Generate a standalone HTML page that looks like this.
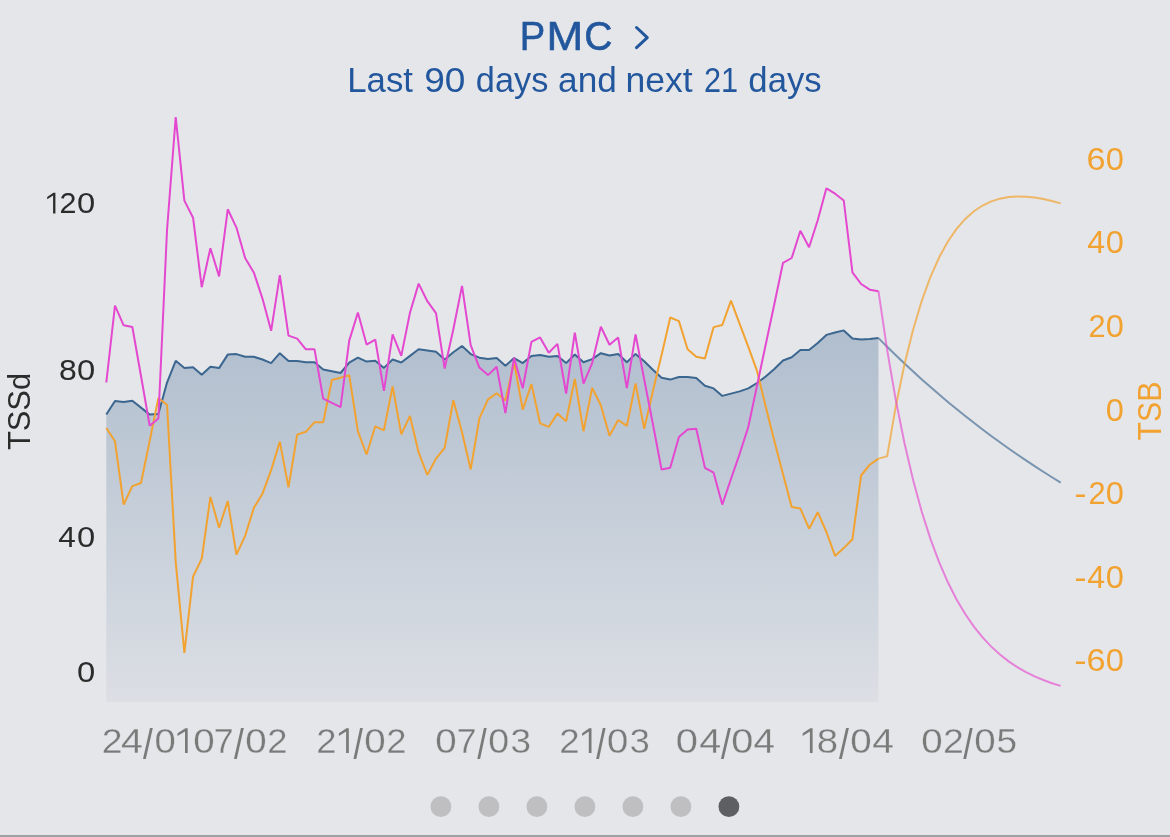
<!DOCTYPE html>
<html><head><meta charset="utf-8"><style>html,body{margin:0;padding:0;width:1170px;height:837px;overflow:hidden;background:#e5e6e9}</style></head>
<body><svg width="1170" height="837" viewBox="0 0 1170 837" style="position:absolute;left:0;top:0;will-change:transform;font-family:'Liberation Sans',sans-serif">
<defs><linearGradient id="g" x1="0" y1="330" x2="0" y2="702" gradientUnits="userSpaceOnUse"><stop offset="0" stop-color="#3a6491" stop-opacity="0.31"/><stop offset="1" stop-color="#3a6491" stop-opacity="0.055"/></linearGradient></defs>
<rect width="1170" height="837" fill="#e5e6e9"/>
<path d="M106.30,702.00 L106.30,414.50 L114.98,401.00 L123.65,402.10 L132.33,400.70 L141.00,407.60 L149.68,414.60 L158.36,413.90 L167.03,382.60 L175.71,360.80 L184.38,367.90 L193.06,367.20 L201.74,374.80 L210.41,366.70 L219.09,368.10 L227.76,354.60 L236.44,354.10 L245.12,356.80 L253.79,356.80 L262.47,359.50 L271.14,363.10 L279.82,353.20 L288.50,360.90 L297.17,361.10 L305.85,362.20 L314.52,362.20 L323.20,369.40 L331.88,371.20 L340.55,373.00 L349.23,362.70 L357.90,357.70 L366.58,361.60 L375.26,360.70 L383.93,367.90 L392.61,359.50 L401.28,362.50 L409.96,355.90 L418.64,349.30 L427.31,350.50 L435.99,351.80 L444.66,359.50 L453.34,352.30 L462.02,346.00 L470.69,354.10 L479.37,357.70 L488.04,359.00 L496.72,357.90 L505.40,365.80 L514.07,358.10 L522.75,363.10 L531.42,355.90 L540.10,355.00 L548.78,356.80 L557.45,355.90 L566.13,363.10 L574.80,354.50 L583.48,362.20 L592.16,359.10 L600.83,353.20 L609.51,355.50 L618.18,354.10 L626.86,362.20 L635.54,353.90 L644.21,361.30 L652.89,369.80 L661.56,377.80 L670.24,379.60 L678.92,377.00 L687.59,377.00 L696.27,378.00 L704.94,385.70 L713.62,388.40 L722.30,395.90 L730.97,393.60 L739.65,391.40 L748.32,388.40 L757.00,383.00 L765.68,376.50 L774.35,369.00 L783.03,360.50 L791.70,357.30 L800.38,350.10 L809.06,350.10 L817.73,343.00 L826.41,334.90 L835.08,332.50 L843.76,330.40 L852.44,338.50 L861.11,339.40 L869.79,339.00 L878.46,338.10 L878.46,702.00 Z" fill="url(#g)"/>
<polyline points="878.46,338.10 887.14,346.76 895.82,355.22 904.49,363.48 913.17,371.54 921.84,379.41 930.52,387.09 939.20,394.59 947.87,401.91 956.55,409.05 965.22,416.03 973.90,422.83 982.58,429.48 991.25,435.97 999.93,442.30 1008.60,448.49 1017.28,454.52 1025.96,460.42 1034.63,466.17 1043.31,471.78 1051.98,477.26 1060.66,482.61" fill="none" stroke="#3b6690" stroke-opacity="0.64" stroke-width="2"/>
<polyline points="878.46,458.60 887.14,456.20 895.82,406.18 904.49,364.33 913.17,329.48 921.84,300.58 930.52,276.77 939.20,257.30 947.87,241.52 956.55,228.89 965.22,218.94 973.90,211.26 982.58,205.51 991.25,201.39 999.93,198.65 1008.60,197.07 1017.28,196.47 1025.96,196.70 1034.63,197.61 1043.31,199.09 1051.98,201.04 1060.66,203.39" fill="none" stroke="#f2a231" stroke-opacity="0.7" stroke-width="2"/>
<polyline points="878.46,291.20 887.14,349.89 895.82,400.19 904.49,443.30 913.17,480.26 921.84,511.94 930.52,539.09 939.20,562.36 947.87,582.31 956.55,599.41 965.22,614.06 973.90,626.63 982.58,637.39 991.25,646.62 999.93,654.53 1008.60,661.32 1017.28,667.13 1025.96,672.11 1034.63,676.38 1043.31,680.04 1051.98,683.18 1060.66,685.87" fill="none" stroke="#e448d0" stroke-opacity="0.64" stroke-width="2"/>
<polyline points="106.30,414.50 114.98,401.00 123.65,402.10 132.33,400.70 141.00,407.60 149.68,414.60 158.36,413.90 167.03,382.60 175.71,360.80 184.38,367.90 193.06,367.20 201.74,374.80 210.41,366.70 219.09,368.10 227.76,354.60 236.44,354.10 245.12,356.80 253.79,356.80 262.47,359.50 271.14,363.10 279.82,353.20 288.50,360.90 297.17,361.10 305.85,362.20 314.52,362.20 323.20,369.40 331.88,371.20 340.55,373.00 349.23,362.70 357.90,357.70 366.58,361.60 375.26,360.70 383.93,367.90 392.61,359.50 401.28,362.50 409.96,355.90 418.64,349.30 427.31,350.50 435.99,351.80 444.66,359.50 453.34,352.30 462.02,346.00 470.69,354.10 479.37,357.70 488.04,359.00 496.72,357.90 505.40,365.80 514.07,358.10 522.75,363.10 531.42,355.90 540.10,355.00 548.78,356.80 557.45,355.90 566.13,363.10 574.80,354.50 583.48,362.20 592.16,359.10 600.83,353.20 609.51,355.50 618.18,354.10 626.86,362.20 635.54,353.90 644.21,361.30 652.89,369.80 661.56,377.80 670.24,379.60 678.92,377.00 687.59,377.00 696.27,378.00 704.94,385.70 713.62,388.40 722.30,395.90 730.97,393.60 739.65,391.40 748.32,388.40 757.00,383.00 765.68,376.50 774.35,369.00 783.03,360.50 791.70,357.30 800.38,350.10 809.06,350.10 817.73,343.00 826.41,334.90 835.08,332.50 843.76,330.40 852.44,338.50 861.11,339.40 869.79,339.00 878.46,338.10" fill="none" stroke="#3b6690" stroke-width="2" stroke-linejoin="bevel"/>
<polyline points="106.30,428.00 114.98,441.30 123.65,504.70 132.33,486.10 141.00,483.00 149.68,440.90 158.36,398.20 167.03,404.70 175.71,561.90 184.38,652.90 193.06,576.60 201.74,558.80 210.41,496.90 219.09,527.80 227.76,501.00 236.44,554.60 245.12,535.80 253.79,508.10 262.47,493.70 271.14,470.20 279.82,441.60 288.50,487.40 297.17,434.60 305.85,431.80 314.52,422.20 323.20,422.20 331.88,380.00 340.55,377.70 349.23,375.10 357.90,431.40 366.58,454.50 375.26,426.30 383.93,430.30 392.61,386.40 401.28,434.40 409.96,415.90 418.64,452.40 427.31,475.00 435.99,458.60 444.66,447.90 453.34,400.30 462.02,432.30 470.69,469.40 479.37,418.30 488.04,399.40 496.72,393.20 505.40,400.50 514.07,362.00 522.75,409.70 531.42,384.10 540.10,423.30 548.78,426.90 557.45,413.40 566.13,421.30 574.80,378.90 583.48,431.20 592.16,387.90 600.83,405.30 609.51,435.70 618.18,420.00 626.86,425.80 635.54,383.40 644.21,428.80 652.89,391.10 661.56,355.10 670.24,317.50 678.92,321.10 687.59,349.30 696.27,356.70 704.94,358.60 713.62,327.10 722.30,325.00 730.97,300.60 739.65,323.90 748.32,346.90 757.00,370.80 765.68,406.50 774.35,441.10 783.03,474.30 791.70,507.00 800.38,508.60 809.06,528.70 817.73,512.20 826.41,532.00 835.08,555.90 843.76,548.10 852.44,539.20 861.11,475.50 869.79,464.70 878.46,458.60" fill="none" stroke="#f2a231" stroke-width="2" stroke-linejoin="bevel"/>
<polyline points="106.30,382.50 114.98,305.60 123.65,325.30 132.33,327.00 141.00,376.00 149.68,425.70 158.36,418.50 167.03,230.00 175.71,117.20 184.38,200.60 193.06,217.70 201.74,287.20 210.41,248.20 219.09,276.40 227.76,209.30 236.44,227.60 245.12,258.00 253.79,272.40 262.47,298.60 271.14,330.80 279.82,275.10 288.50,335.60 297.17,338.60 305.85,349.30 314.52,349.30 323.20,398.70 331.88,402.80 340.55,407.20 349.23,340.60 357.90,312.50 366.58,344.60 375.26,339.70 383.93,390.80 392.61,334.40 401.28,355.90 409.96,312.80 418.64,283.60 427.31,301.20 435.99,313.20 444.66,368.50 453.34,329.30 462.02,285.90 470.69,345.10 479.37,367.60 488.04,375.10 496.72,366.70 505.40,413.10 514.07,357.70 522.75,388.30 531.42,341.90 540.10,337.40 548.78,352.70 557.45,343.90 566.13,393.50 574.80,332.60 583.48,383.60 592.16,363.10 600.83,326.80 609.51,344.80 618.18,337.60 626.86,388.10 635.54,334.40 644.21,379.50 652.89,424.00 661.56,469.60 670.24,467.80 678.92,437.00 687.59,429.60 696.27,428.70 704.94,467.90 713.62,472.70 722.30,504.60 730.97,479.00 739.65,453.80 748.32,426.90 757.00,385.80 765.68,344.70 774.35,304.00 783.03,262.80 791.70,258.00 800.38,230.70 809.06,247.20 817.73,220.30 826.41,188.30 835.08,193.70 843.76,200.50 852.44,272.30 861.11,284.00 869.79,289.70 878.46,291.20" fill="none" stroke="#e448d0" stroke-width="2" stroke-linejoin="bevel"/>
<text transform="translate(59.47,213.41) scale(1.0287,1)" font-size="29.66" fill="#2b2b2b">2</text><text transform="translate(76.97,213.41) scale(1.1038,1)" font-size="29.66" fill="#2b2b2b">0</text><text transform="translate(58.91,379.70) scale(1.0576,1)" font-size="30.23" fill="#2b2b2b">8</text><text transform="translate(76.97,379.70) scale(1.0831,1)" font-size="30.23" fill="#2b2b2b">0</text><text transform="translate(58.28,546.51) scale(1.0638,1)" font-size="29.66" fill="#2b2b2b">4</text><text transform="translate(76.97,546.51) scale(1.1038,1)" font-size="29.66" fill="#2b2b2b">0</text><text transform="translate(76.97,681.70) scale(1.0831,1)" font-size="30.23" fill="#2b2b2b">0</text><text transform="translate(1086.56,169.80) scale(1.1224,1)" font-size="30.51" fill="#f2a231">6</text><text transform="translate(1105.63,169.80) scale(1.0697,1)" font-size="30.51" fill="#f2a231">0</text><text transform="translate(1087.16,253.37) scale(1.0538,1)" font-size="30.51" fill="#f2a231">4</text><text transform="translate(1105.63,253.37) scale(1.0697,1)" font-size="30.51" fill="#f2a231">0</text><text transform="translate(1088.45,336.94) scale(1.0073,1)" font-size="30.51" fill="#f2a231">2</text><text transform="translate(1105.63,336.94) scale(1.0697,1)" font-size="30.51" fill="#f2a231">0</text><text transform="translate(1105.63,420.51) scale(1.0697,1)" font-size="30.51" fill="#f2a231">0</text><text transform="translate(1074.14,504.08) scale(1.2218,1)" font-size="30.51" fill="#f2a231">-</text><text transform="translate(1088.45,504.08) scale(1.0073,1)" font-size="30.51" fill="#f2a231">2</text><text transform="translate(1105.63,504.08) scale(1.0697,1)" font-size="30.51" fill="#f2a231">0</text><text transform="translate(1074.14,587.65) scale(1.2218,1)" font-size="30.51" fill="#f2a231">-</text><text transform="translate(1087.16,587.65) scale(1.0538,1)" font-size="30.51" fill="#f2a231">4</text><text transform="translate(1105.63,587.65) scale(1.0697,1)" font-size="30.51" fill="#f2a231">0</text><text transform="translate(1074.14,671.22) scale(1.2218,1)" font-size="30.51" fill="#f2a231">-</text><text transform="translate(1086.56,671.22) scale(1.1224,1)" font-size="30.51" fill="#f2a231">6</text><text transform="translate(1105.63,671.22) scale(1.0697,1)" font-size="30.51" fill="#f2a231">0</text><text transform="translate(29.60,450.09) rotate(-90) scale(0.9887,1)" font-size="31.21" fill="#2b2b2b">TSSd</text><text transform="translate(1160.98,440.48) rotate(-90) scale(0.9393,1)" font-size="32.34" fill="#f2a231">TSB</text><text transform="translate(101.82,752.9) scale(1.0453,1)" font-size="35.7" fill="#7a7a7a" stroke="#e5e6e9" stroke-width="0.3">2</text><text transform="translate(120.99,752.9) scale(1.1062,1)" font-size="35.7" fill="#7a7a7a" stroke="#e5e6e9" stroke-width="0.3">4</text><polygon points="143.00,758.9 145.80,758.9 152.80,728.1 150.00,728.1" fill="#7a7a7a"/><text transform="translate(154.50,752.9) scale(1.0723,1)" font-size="35.7" fill="#7a7a7a" stroke="#e5e6e9" stroke-width="0.3">0</text><polygon points="187.70,728.30 187.70,752.90 185.00,752.90 185.00,731.60 177.50,736.00 177.50,733.20 185.35,728.30" fill="#7a7a7a"/><text transform="translate(193.20,752.9) scale(1.0782,1)" font-size="35.7" fill="#7a7a7a" stroke="#e5e6e9" stroke-width="0.3">0</text><text transform="translate(213.76,752.9) scale(1.0044,1)" font-size="35.7" fill="#7a7a7a" stroke="#e5e6e9" stroke-width="0.3">7</text><polygon points="234.00,758.9 236.80,758.9 243.80,728.1 241.00,728.1" fill="#7a7a7a"/><text transform="translate(245.30,752.9) scale(1.0782,1)" font-size="35.7" fill="#7a7a7a" stroke="#e5e6e9" stroke-width="0.3">0</text><text transform="translate(267.27,752.9) scale(1.0207,1)" font-size="35.7" fill="#7a7a7a" stroke="#e5e6e9" stroke-width="0.3">2</text><text transform="translate(316.17,752.9) scale(1.0207,1)" font-size="35.7" fill="#7a7a7a" stroke="#e5e6e9" stroke-width="0.3">2</text><polygon points="348.80,728.30 348.80,752.90 346.10,752.90 346.10,731.60 338.90,736.00 338.90,733.20 346.45,728.30" fill="#7a7a7a"/><polygon points="353.50,758.9 356.30,758.9 362.90,728.1 360.10,728.1" fill="#7a7a7a"/><text transform="translate(364.30,752.9) scale(1.0782,1)" font-size="35.7" fill="#7a7a7a" stroke="#e5e6e9" stroke-width="0.3">0</text><text transform="translate(386.27,752.9) scale(1.0207,1)" font-size="35.7" fill="#7a7a7a" stroke="#e5e6e9" stroke-width="0.3">2</text><text transform="translate(435.20,752.9) scale(1.0782,1)" font-size="35.7" fill="#7a7a7a" stroke="#e5e6e9" stroke-width="0.3">0</text><text transform="translate(456.67,752.9) scale(0.9982,1)" font-size="35.7" fill="#7a7a7a" stroke="#e5e6e9" stroke-width="0.3">7</text><polygon points="477.30,758.9 480.10,758.9 486.70,728.1 483.90,728.1" fill="#7a7a7a"/><text transform="translate(488.24,752.9) scale(1.0489,1)" font-size="35.7" fill="#7a7a7a" stroke="#e5e6e9" stroke-width="0.3">0</text><text transform="translate(510.49,752.9) scale(1.0339,1)" font-size="35.7" fill="#7a7a7a" stroke="#e5e6e9" stroke-width="0.3">3</text><text transform="translate(559.26,752.9) scale(1.0268,1)" font-size="35.7" fill="#7a7a7a" stroke="#e5e6e9" stroke-width="0.3">2</text><polygon points="591.50,728.30 591.50,752.90 588.80,752.90 588.80,731.60 582.10,736.00 582.10,733.20 589.15,728.30" fill="#7a7a7a"/><polygon points="596.20,758.9 599.00,758.9 605.60,728.1 602.80,728.1" fill="#7a7a7a"/><text transform="translate(607.10,752.9) scale(1.0723,1)" font-size="35.7" fill="#7a7a7a" stroke="#e5e6e9" stroke-width="0.3">0</text><text transform="translate(629.83,752.9) scale(1.0103,1)" font-size="35.7" fill="#7a7a7a" stroke="#e5e6e9" stroke-width="0.3">3</text><text transform="translate(675.84,752.9) scale(1.1192,1)" font-size="35.7" fill="#7a7a7a" stroke="#e5e6e9" stroke-width="0.3">0</text><text transform="translate(699.19,752.9) scale(1.1062,1)" font-size="35.7" fill="#7a7a7a" stroke="#e5e6e9" stroke-width="0.3">4</text><polygon points="720.90,758.9 723.70,758.9 730.90,728.1 728.10,728.1" fill="#7a7a7a"/><text transform="translate(731.15,752.9) scale(1.1134,1)" font-size="35.7" fill="#7a7a7a" stroke="#e5e6e9" stroke-width="0.3">0</text><text transform="translate(753.51,752.9) scale(1.0840,1)" font-size="35.7" fill="#7a7a7a" stroke="#e5e6e9" stroke-width="0.3">4</text><polygon points="812.60,728.30 812.60,752.90 809.90,752.90 809.90,731.60 802.70,736.00 802.70,733.20 810.25,728.30" fill="#7a7a7a"/><text transform="translate(816.83,752.9) scale(1.0745,1)" font-size="35.7" fill="#7a7a7a" stroke="#e5e6e9" stroke-width="0.3">8</text><polygon points="839.00,758.9 841.80,758.9 848.90,728.1 846.10,728.1" fill="#7a7a7a"/><text transform="translate(850.30,752.9) scale(1.0782,1)" font-size="35.7" fill="#7a7a7a" stroke="#e5e6e9" stroke-width="0.3">0</text><text transform="translate(872.30,752.9) scale(1.0951,1)" font-size="35.7" fill="#7a7a7a" stroke="#e5e6e9" stroke-width="0.3">4</text><text transform="translate(921.20,752.9) scale(1.0782,1)" font-size="35.7" fill="#7a7a7a" stroke="#e5e6e9" stroke-width="0.3">0</text><text transform="translate(943.01,752.9) scale(1.0514,1)" font-size="35.7" fill="#7a7a7a" stroke="#e5e6e9" stroke-width="0.3">2</text><polygon points="963.30,758.9 966.10,758.9 972.70,728.1 969.90,728.1" fill="#7a7a7a"/><text transform="translate(974.20,752.9) scale(1.0782,1)" font-size="35.7" fill="#7a7a7a" stroke="#e5e6e9" stroke-width="0.3">0</text><text transform="translate(996.42,752.9) scale(1.0339,1)" font-size="35.7" fill="#7a7a7a" stroke="#e5e6e9" stroke-width="0.3">5</text><polygon points="55.41,192.70 55.41,213.40 53.09,213.40 53.09,195.54 47.20,199.32 47.20,196.91 53.39,192.70" fill="#2b2b2b"/><text transform="translate(519.77,50.10) scale(0.9217,1)" font-size="41.38" font-weight="normal" fill="#23579d" stroke="#23579d" stroke-width="0.6" stroke-linejoin="round">P</text><text transform="translate(546.38,50.10) scale(1.0656,1)" font-size="41.38" font-weight="normal" fill="#23579d" stroke="#23579d" stroke-width="0.6" stroke-linejoin="round">M</text><text transform="translate(584.22,50.10) scale(0.9424,1)" font-size="41.38" font-weight="normal" fill="#23579d" stroke="#23579d" stroke-width="0.6" stroke-linejoin="round">C</text><text transform="translate(347.25,91.8) scale(1.0134,1)" font-size="34.30" fill="#23579d">Last</text><text transform="translate(424.26,91.8) scale(1.0793,1)" font-size="34.30" fill="#23579d">90</text><text transform="translate(475.86,91.8) scale(1.0003,1)" font-size="34.30" fill="#23579d">days</text><text transform="translate(558.10,91.8) scale(1.0268,1)" font-size="34.30" fill="#23579d">and</text><text transform="translate(625.44,91.8) scale(1.0368,1)" font-size="34.30" fill="#23579d">next</text><text transform="translate(703.96,91.8) scale(0.8948,1)" font-size="34.30" fill="#23579d">21</text><text transform="translate(748.34,91.8) scale(1.0118,1)" font-size="34.30" fill="#23579d">days</text>
<polyline points="636.5,27.5 647.3,37.6 636.5,47.7" fill="none" stroke="#23579d" stroke-width="3" stroke-linecap="round" stroke-linejoin="round"/>
<circle cx="440.9" cy="806.7" r="10.4" fill="#bfbfc1"/><circle cx="488.9" cy="806.7" r="10.4" fill="#bfbfc1"/><circle cx="536.9" cy="806.7" r="10.4" fill="#bfbfc1"/><circle cx="584.9" cy="806.7" r="10.4" fill="#bfbfc1"/><circle cx="632.9" cy="806.7" r="10.4" fill="#bfbfc1"/><circle cx="680.9" cy="806.7" r="10.4" fill="#bfbfc1"/><circle cx="728.9" cy="806.7" r="10.4" fill="#5e5f63"/>
<rect x="0" y="834" width="1170" height="1" fill="#eaebed"/><rect x="0" y="834.9" width="1170" height="3" fill="#a0a1a4"/>
</svg></body></html>
